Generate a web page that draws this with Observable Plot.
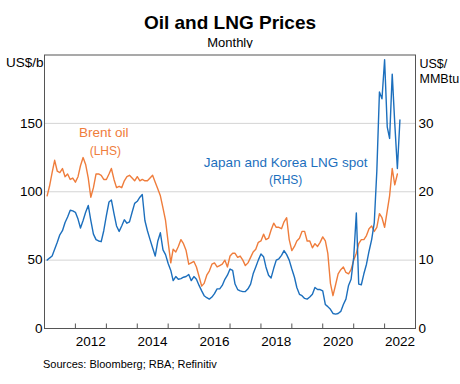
<!DOCTYPE html>
<html><head><meta charset="utf-8">
<script src="https://cdn.jsdelivr.net/npm/d3@7"></script>
<script src="https://cdn.jsdelivr.net/npm/@observablehq/plot@0.6"></script>
<style>
body{margin:0;background:#fff;font-family:"Liberation Sans",Arial,sans-serif;color:#000;}
#wrap{position:relative;width:460px;height:384px;overflow:hidden;}
#title{position:absolute;left:0;width:460px;top:12px;text-align:center;font-weight:bold;font-size:19px;line-height:22px;}
#sub{position:absolute;left:0;width:460px;top:35px;text-align:center;font-size:13px;line-height:15px;}
#chart{position:absolute;left:0;top:48px;}
#src{position:absolute;left:43px;top:358px;font-size:11px;line-height:13px;}
</style></head><body>
<div id="wrap"><div id="title">Oil and LNG Prices</div><div id="sub">Monthly</div><div id="chart"></div><div id="src">Sources: Bloomberg; RBA; Refinitiv</div></div>
<script>
// Monthly series starting January 2011
const startYear = 2011;
// Brent oil, US$/b (LHS), Jan 2011 - May 2022
const brent = [
  97,104,114,123,115,114,117,111,113,109,110,107,
  111,119,125,120,110,96,103,113,113,112,109,109,
  113,117,109,103,104,103,108,111,112,110,108,111,
  108,109,108,108,110,112,107,102,97,88,79,63,
  48,58,56,60,65,62,57,47,48,49,45,38,
  31,33,39,42,47,48,45,46,47,50,45,53,
  55,55,52,53,50,46,48,52,56,58,63,64,
  69,65,66,72,77,74,74,73,78,81,65,57,
  60,64,66,71,71,64,64,59,62,60,63,67,
  64,55,33,24,32,40,43,45,41,40,43,50,
  55,62,65,65,68,73,75,71,74,84,81,74,
  86,97,117,105,113
];
// Japan and Korea LNG spot, US$/MMBtu (RHS), Jan 2011 - Jun 2022
const lng = [
  10.0,10.3,10.6,11.6,12.6,13.7,14.3,15.5,16.3,17.3,17.2,17.0,
  16.0,14.7,15.8,17.0,18.0,15.8,13.8,13.0,12.8,12.7,14.3,16.5,
  18.5,18.8,16.8,15.0,14.2,15.0,15.9,15.4,15.6,17.0,18.3,18.6,
  19.2,19.6,15.8,14.3,13.0,11.8,10.6,12.8,14.0,11.5,10.8,9.5,
  8.5,7.0,7.6,7.2,7.3,7.5,7.6,7.9,7.0,7.6,7.2,6.3,
  5.5,4.8,4.5,4.3,4.6,5.1,5.8,5.8,6.3,7.2,7.8,8.7,
  8.5,6.5,5.7,5.5,5.4,5.4,5.8,6.5,8.0,9.0,10.0,10.9,
  10.5,9.0,7.8,7.4,8.8,10.0,10.2,10.7,11.4,10.8,10.0,8.7,
  7.5,6.0,5.0,4.8,4.4,4.3,4.6,5.0,6.0,5.7,5.7,5.5,
  3.5,3.2,2.8,2.2,2.1,2.2,2.5,3.5,4.3,6.3,7.2,10.4,
  16.9,6.5,6.4,8.0,9.4,11.3,13.0,15.5,23.0,34.6,33.6,39.3,
  29.5,27.8,37.2,30.0,23.4,30.5
];
const leftTicks = [0, 50, 100, 150];
const rightTicks = [0, 10, 20, 30];
const gridVals = [50, 100, 150];
const tickYears = d3.range(2012, 2023);
const labelYears = [2012, 2014, 2016, 2018, 2020, 2022];
const rhsFactor = 5; // 40 US$/MMBtu on RHS = 200 US$/b on LHS

const orange = "#ef7d3c";
const blue = "#1c6fbd";

const monthEnd = i => d3.utcMonth.offset(new Date(Date.UTC(startYear, 0, 1)), i + 1);
const brentData = brent.map((v, i) => ({date: monthEnd(i), value: v}));
const lngData = lng.map((v, i) => ({date: monthEnd(i), value: v * rhsFactor}));

const labels = [
  {text: "Brent oil", date: new Date(Date.UTC(2012, 11, 1)), value: 143, color: orange, size: 13.5},
  {text: "(LHS)", date: new Date(Date.UTC(2012, 11, 20)), value: 129.5, color: orange, size: 12},
  {text: "Japan and Korea LNG spot", date: new Date(Date.UTC(2018, 9, 20)), value: 121, color: blue, size: 13.5},
  {text: "(RHS)", date: new Date(Date.UTC(2018, 9, 20)), value: 108.5, color: blue, size: 12}
];

const chart = Plot.plot({
  width: 460,
  height: 304,
  marginLeft: 44,
  marginRight: 45,
  marginTop: 6.5,
  marginBottom: 24,
  style: {fontFamily: '"Liberation Sans", Arial, sans-serif', fontSize: "13.5px", color: "#000", background: "#fff"},
  x: {type: "utc", domain: [new Date(Date.UTC(2011, 0, 1)), new Date(Date.UTC(2023, 0, 1))]},
  y: {domain: [0, 200]},
  marks: [
    Plot.ruleY(gridVals, {stroke: "#d4d4d4", strokeWidth: 1}),
    Plot.ruleX(tickYears.map(y => new Date(Date.UTC(y, 0, 1))), {stroke: "#555", insetTop: 269}),
    Plot.line(brentData, {x: "date", y: "value", stroke: orange, strokeWidth: 1.4}),
    Plot.line(lngData, {x: "date", y: "value", stroke: blue, strokeWidth: 1.4}),
    Plot.frame({stroke: "#555"}),
    Plot.axisY({anchor: "left", ticks: leftTicks, tickSize: 0, tickPadding: 2, label: null, fontSize: 13.5}),
    Plot.axisY({anchor: "right", ticks: rightTicks.map(t => t * rhsFactor), tickFormat: d => d / rhsFactor, tickSize: 0, tickPadding: 3, label: null, fontSize: 13.5}),
    Plot.axisX({ticks: labelYears.map(y => new Date(Date.UTC(y, 6, 1))), tickFormat: d3.utcFormat("%Y"), tickSize: 0, tickPadding: 8, label: null, fontSize: 13.5}),
    Plot.text(["US$/b"], {frameAnchor: "top-left", textAnchor: "end", lineAnchor: "top", dx: -1, dy: 2, fontSize: 13.5}),
    Plot.text(["US$/\nMMBtu"], {frameAnchor: "top-right", textAnchor: "start", lineAnchor: "top", dx: 4, dy: 2, lineHeight: 1.2, fontSize: 12.5}),
    Plot.text(labels, {x: "date", y: "value", text: "text", fill: "color", fontSize: "size"})
  ]
});
document.getElementById("chart").appendChild(chart);
</script>
</body></html>
